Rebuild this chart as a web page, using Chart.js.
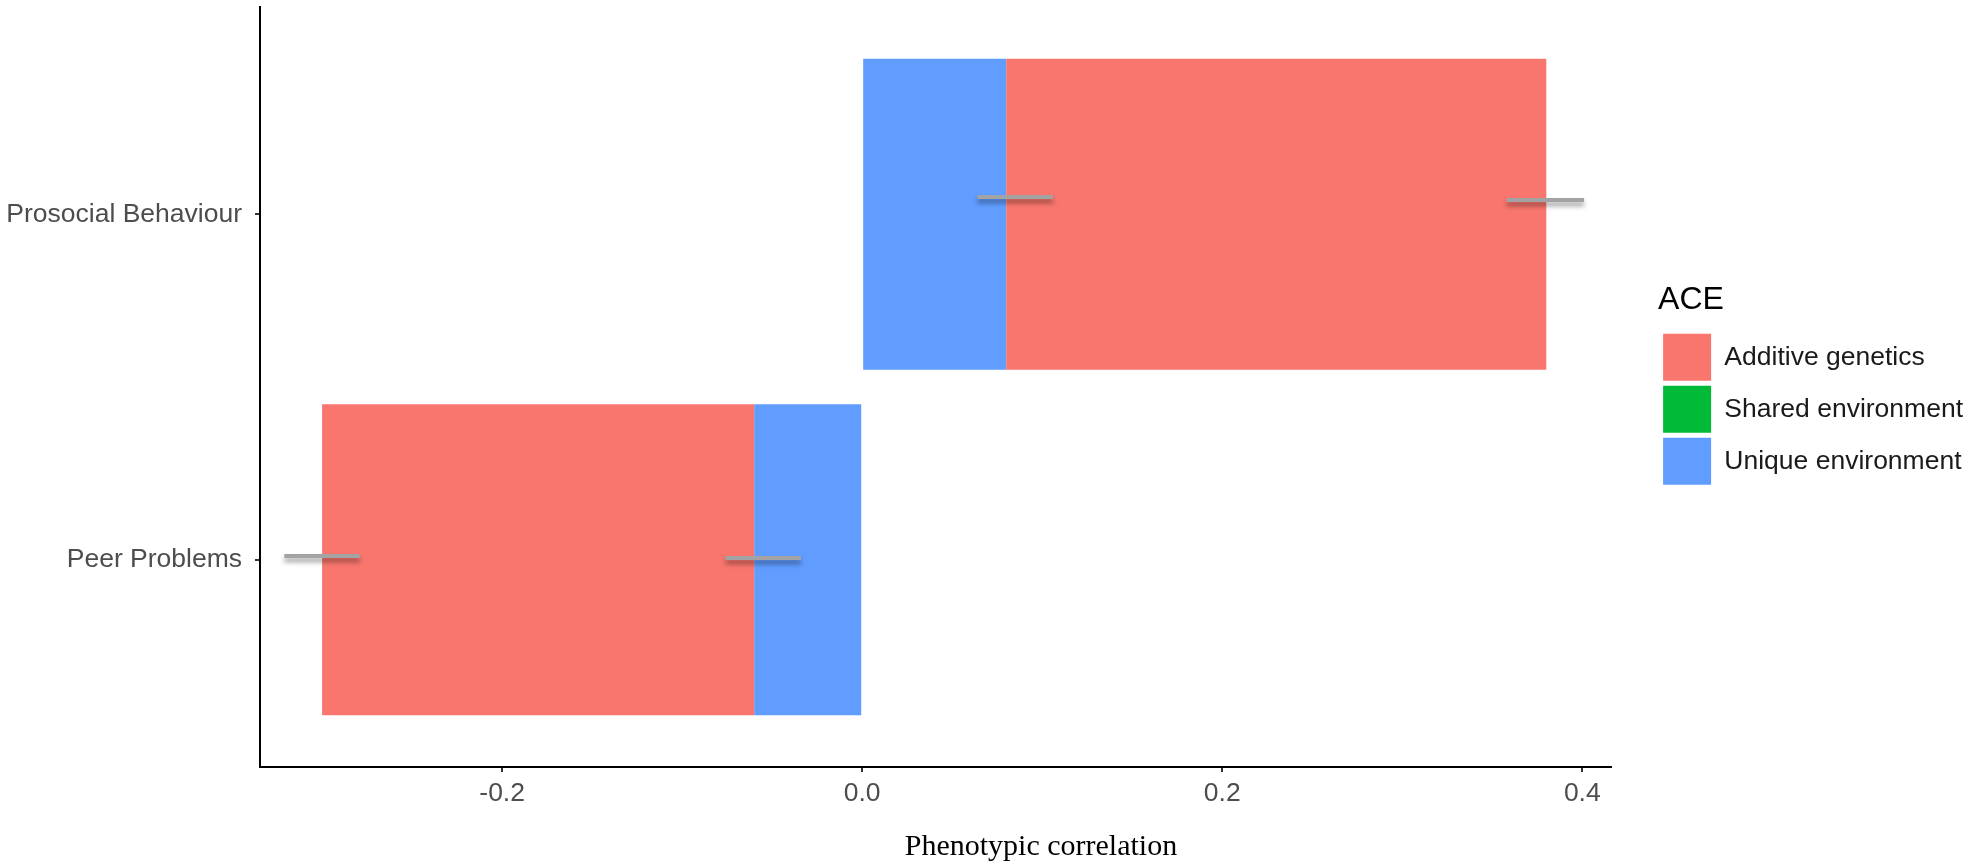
<!DOCTYPE html>
<html>
<head>
<meta charset="utf-8">
<script src="https://cdn.jsdelivr.net/npm/chart.js@4/dist/chart.umd.min.js"></script>
<style>
    body { margin: 0; background: #fff; }
    #wrap { width: 1976px; height: 866px; position: relative; }
</style>
</head>
<body>
<div id="wrap"><canvas id="aceChart"></canvas></div>
<script>
// categories, top to bottom
const categories = ['Prosocial Behaviour', 'Peer Problems'];

// ACE components of the phenotypic correlation
const additive = [0.30, -0.24];
const shared = [0.00, 0.00];
const unique = [0.08, -0.06];

// error bars [low, high] and their vertical spot on the category axis
const additiveErr = [[0.358, 0.401], [-0.321, -0.279]];
const uniqueErr = [[0.064, 0.106], [-0.076, -0.034]];
const additiveErrY = [-0.041, 0.989];
const uniqueErrY = [-0.050, 0.995];

const xTicks = [-0.2, 0.0, 0.2, 0.4];

const colors = {
    additive: '#F8766D',
    shared: '#00BA38',
    unique: '#619CFF'
};

// stacked like ggplot: unique next to zero, then additive, then shared
function segments(which) {
    return categories.map((c, i) => {
        const u = unique[i];
        const a = u + additive[i];
        const s = a + shared[i];
        if (which === 'unique') return { x: [0, u], y: i };
        if (which === 'additive') return { x: [u, a], y: i };
        return { x: [a, s], y: i };
    });
}

const errorBarsPlugin = {
    id: 'errorBars',
    afterDatasetsDraw(chart) {
        const ctx = chart.ctx;
        const xs = chart.scales.x;
        const ys = chart.scales.y;
        const bars = [];
        categories.forEach((c, i) => {
            bars.push([additiveErr[i], additiveErrY[i]]);
            bars.push([uniqueErr[i], uniqueErrY[i]]);
        });
        ctx.save();
        ctx.lineWidth = 4;
        ctx.strokeStyle = '#a3a3a3';
        ctx.shadowColor = 'rgba(0,0,0,0.4)';
        ctx.shadowBlur = 5;
        ctx.shadowOffsetY = 4;
        bars.forEach(([range, yv]) => {
            const y = ys.getPixelForValue(yv);
            ctx.beginPath();
            ctx.moveTo(xs.getPixelForValue(range[0]), y);
            ctx.lineTo(xs.getPixelForValue(range[1]), y);
            ctx.stroke();
        });
        ctx.restore();
    }
};

// x title sits a bit right of centre in the original
const xTitlePlugin = {
    id: 'xTitle',
    afterDraw(chart) {
        const ctx = chart.ctx;
        const area = chart.chartArea;
        ctx.save();
        ctx.font = '30px "Liberation Serif", "Times New Roman", serif';
        ctx.fillStyle = '#000';
        ctx.textAlign = 'center';
        ctx.textBaseline = 'alphabetic';
        ctx.fillText('Phenotypic correlation', area.left + (area.right - area.left) * 0.578, chart.height - 11);
        ctx.restore();
    }
};

function noPadding(s) {
    s.paddingTop = 0;
    s.paddingBottom = 0;
    s.paddingLeft = 0;
    s.paddingRight = 0;
}

const tickFont = { family: '"Liberation Sans", Arial, sans-serif', size: 26.5 };

new Chart(document.getElementById('aceChart').getContext('2d'), {
    type: 'bar',
    data: {
        datasets: [
            { label: 'Additive genetics', data: segments('additive'), backgroundColor: colors.additive, borderWidth: 0 },
            { label: 'Shared environment', data: segments('shared'), backgroundColor: colors.shared, borderWidth: 0 },
            { label: 'Unique environment', data: segments('unique'), backgroundColor: colors.unique, borderWidth: 0 }
        ]
    },
    options: {
        indexAxis: 'y',
        responsive: true,
        maintainAspectRatio: false,
        animation: false,
        grouped: false,
        categoryPercentage: 1,
        barPercentage: 0.9,
        layout: { padding: { top: 7, right: 3, bottom: 0, left: 0 } },
        plugins: {
            tooltip: { enabled: false },
            legend: {
                position: 'right',
                fullSize: false,
                align: 'center',
                title: {
                    display: true,
                    text: 'ACE',
                    position: 'start',
                    color: '#000',
                    font: { family: '"Liberation Sans", Arial, sans-serif', size: 32 },
                    padding: { top: 0, bottom: 6 }
                },
                labels: {
                    boxWidth: 48,
                    boxHeight: 47,
                    padding: 5,
                    color: '#1a1a1a',
                    font: tickFont
                }
            }
        },
        scales: {
            x: {
                type: 'linear',
                min: -0.3345,
                max: 0.416,
                afterFit: s => { s.height = 99; noPadding(s); },
                afterBuildTicks: s => { s.ticks = xTicks.map(v => ({ value: v })); },
                ticks: {
                    color: '#4d4d4d',
                    font: tickFont,
                    padding: 6,
                    callback: v => (Math.round(v * 10) / 10).toFixed(1)
                },
                grid: { display: true, drawOnChartArea: false, drawTicks: true, tickLength: 5, color: '#333', lineWidth: 2 },
                border: { display: true, color: '#000', width: 2 }
            },
            y: {
                type: 'linear',
                reverse: true,
                offset: false,
                min: -0.6,
                max: 1.6,
                afterFit: s => { s.width = 260; noPadding(s); },
                afterBuildTicks: s => { s.ticks = categories.map((c, i) => ({ value: i })); },
                ticks: {
                    color: '#4d4d4d',
                    font: tickFont,
                    padding: 13,
                    callback: v => categories[v]
                },
                grid: { display: true, offset: false, drawOnChartArea: false, drawTicks: true, tickLength: 5, color: '#333', lineWidth: 2 },
                border: { display: true, color: '#000', width: 2 }
            },
            gap: {
                type: 'linear',
                axis: 'y',
                position: 'right',
                display: true,
                afterFit: s => { s.width = 47; noPadding(s); },
                ticks: { display: false },
                grid: { display: false },
                border: { display: false }
            }
        }
    },
    plugins: [errorBarsPlugin, xTitlePlugin]
});
</script>
</body>
</html>
